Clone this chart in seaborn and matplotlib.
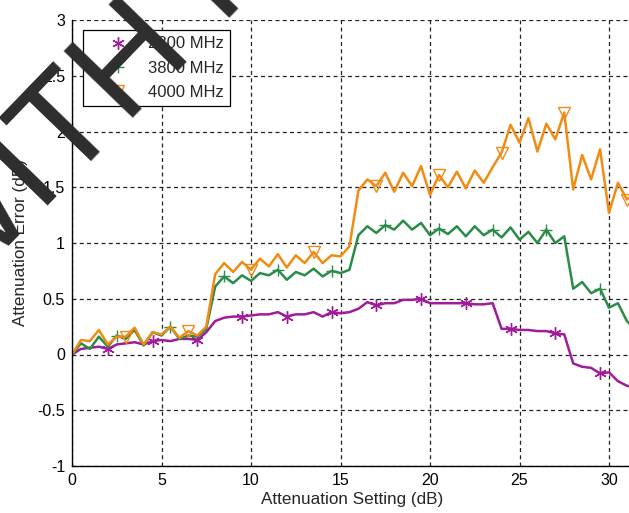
import numpy as np
import pandas as pd
import seaborn as sns
import matplotlib.pyplot as plt
from matplotlib.lines import Line2D

# attenuation setting sweep (dB)
setting_db = [0.0, 0.5, 1.0, 1.5, 2.0, 2.5, 3.0, 3.5, 4.0, 4.5, 5.0, 5.5, 6.0, 6.5, 7.0, 7.5,
              8.0, 8.5, 9.0, 9.5, 10.0, 10.5, 11.0, 11.5, 12.0, 12.5, 13.0, 13.5, 14.0, 14.5, 15.0, 15.5,
              16.0, 16.5, 17.0, 17.5, 18.0, 18.5, 19.0, 19.5, 20.0, 20.5, 21.0, 21.5, 22.0, 22.5, 23.0, 23.5,
              24.0, 24.5, 25.0, 25.5, 26.0, 26.5, 27.0, 27.5, 28.0, 28.5, 29.0, 29.5, 30.0, 30.5, 31.0, 31.5]

err_2800 = [0.00, 0.05, 0.06, 0.07, 0.05, 0.09, 0.10, 0.11, 0.09, 0.12, 0.13, 0.12, 0.14, 0.14, 0.13, 0.20,
            0.30, 0.33, 0.34, 0.34, 0.35, 0.36, 0.36, 0.38, 0.34, 0.36, 0.36, 0.38, 0.34, 0.38, 0.37, 0.38,
            0.41, 0.47, 0.44, 0.46, 0.46, 0.49, 0.49, 0.50, 0.46, 0.46, 0.46, 0.46, 0.46, 0.45, 0.45, 0.46,
            0.23, 0.23, 0.22, 0.22, 0.21, 0.21, 0.19, 0.18, -0.08, -0.11, -0.12, -0.17, -0.16, -0.24, -0.28, -0.30]

err_3800 = [0.00, 0.10, 0.05, 0.16, 0.07, 0.17, 0.14, 0.22, 0.08, 0.20, 0.17, 0.25, 0.14, 0.17, 0.16, 0.23,
            0.61, 0.70, 0.64, 0.71, 0.66, 0.73, 0.71, 0.76, 0.67, 0.74, 0.71, 0.77, 0.70, 0.75, 0.73, 0.76,
            1.07, 1.15, 1.09, 1.16, 1.12, 1.20, 1.12, 1.18, 1.07, 1.13, 1.08, 1.15, 1.06, 1.15, 1.07, 1.12,
            1.05, 1.14, 1.03, 1.10, 1.00, 1.12, 1.00, 1.06, 0.59, 0.65, 0.55, 0.59, 0.42, 0.46, 0.30, 0.22]

err_4000 = [0.00, 0.13, 0.12, 0.22, 0.09, 0.16, 0.16, 0.24, 0.09, 0.20, 0.18, 0.25, 0.15, 0.21, 0.17, 0.25,
            0.72, 0.82, 0.74, 0.83, 0.76, 0.86, 0.79, 0.90, 0.78, 0.89, 0.82, 0.92, 0.82, 0.89, 0.88, 0.97,
            1.47, 1.57, 1.51, 1.63, 1.46, 1.63, 1.51, 1.69, 1.43, 1.61, 1.50, 1.64, 1.49, 1.65, 1.54, 1.68,
            1.81, 2.06, 1.90, 2.12, 1.82, 2.07, 1.93, 2.17, 1.48, 1.79, 1.57, 1.84, 1.27, 1.54, 1.39, 1.45]

labels = ['2800 MHz', '3800 MHz', '4000 MHz']
x_ticks = [0, 5, 10, 15, 20, 25, 30]
y_ticks = [-1, -0.5, 0, 0.5, 1, 1.5, 2, 2.5, 3]

df = pd.DataFrame({'setting': setting_db,
                   '2800 MHz': err_2800,
                   '3800 MHz': err_3800,
                   '4000 MHz': err_4000})

sns.set_style('white')
plt.rcParams['font.family'] = ['Liberation Sans', 'DejaVu Sans']

fig = plt.figure(figsize=(6.29, 5.13), dpi=100)
ax = fig.add_axes([72 / 629, 47 / 513, 561 / 629, 446 / 513])

# label, colour, marker, markevery
styles = [('2800 MHz', '#a01c98', (6, 2, 0), (4, 5)),
          ('3800 MHz', '#2a8c48', '+', (5, 6)),
          ('4000 MHz', '#f08c14', 'v', (6, 7))]

handles = []
for lab, col, mk, every in styles:
    sns.lineplot(data=df, x='setting', y=lab, ax=ax, color=col, linewidth=1.8,
                 marker=mk, markevery=every, markersize=9, markerfacecolor='none',
                 markeredgecolor=col, markeredgewidth=1.0)
    handles.append(Line2D([], [], ls='none', marker=mk, color=col, mfc='none',
                          mec=col, ms=9, mew=1.0))

ax.set_xlim(0, 561 / 17.9)
ax.set_ylim(-1, 3)
ax.set_xticks(x_ticks)
ax.set_yticks(y_ticks)
ax.set_xticklabels([str(t) for t in x_ticks])
ax.set_yticklabels(['-1', '-0.5', '0', '0.5', '1', '1.5', '2', '2.5', '3'])
ax.tick_params(direction='in', length=4, width=0.8, labelsize=11.5, pad=5, colors='black')
ax.grid(True, color='#222222', linestyle=(0, (3.2, 2.6)), linewidth=0.9)
for s in ['top', 'right']:
    ax.spines[s].set_visible(False)
for s in ['left', 'bottom']:
    ax.spines[s].set_color('black')
    ax.spines[s].set_linewidth(1.0)

ax.set_xlabel('Attenuation Setting (dB)', fontsize=12.3)
ax.set_ylabel('Attenuation Error (dB)', fontsize=12.3)
ax.xaxis.set_label_coords(0.5, -26 / 446)
ax.yaxis.set_label_coords(-44 / 561, 0.5)

leg = ax.legend(handles, labels, loc='upper left', bbox_to_anchor=(11 / 561, 1 - 10 / 446),
                borderaxespad=0, frameon=True, fancybox=False, framealpha=1,
                edgecolor='black', fontsize=12, handlelength=3.4, handletextpad=0.1,
                borderpad=0.38, labelspacing=0.56)
leg.get_frame().set_linewidth(0.9)

# diagonal watermark across the top-left corner
wm = dict(fontsize=100, color='#2d2d2d', rotation=46, rotation_mode='anchor',
          va='baseline', transform=fig.transFigure, zorder=10)
fig.text(0.106, 0.637, 'WI', ha='right', **wm)
fig.text(0.106, 0.637, 'TH PERMISSION', ha='left', **wm)

fig.savefig('out.png', dpi=100, facecolor='white')
